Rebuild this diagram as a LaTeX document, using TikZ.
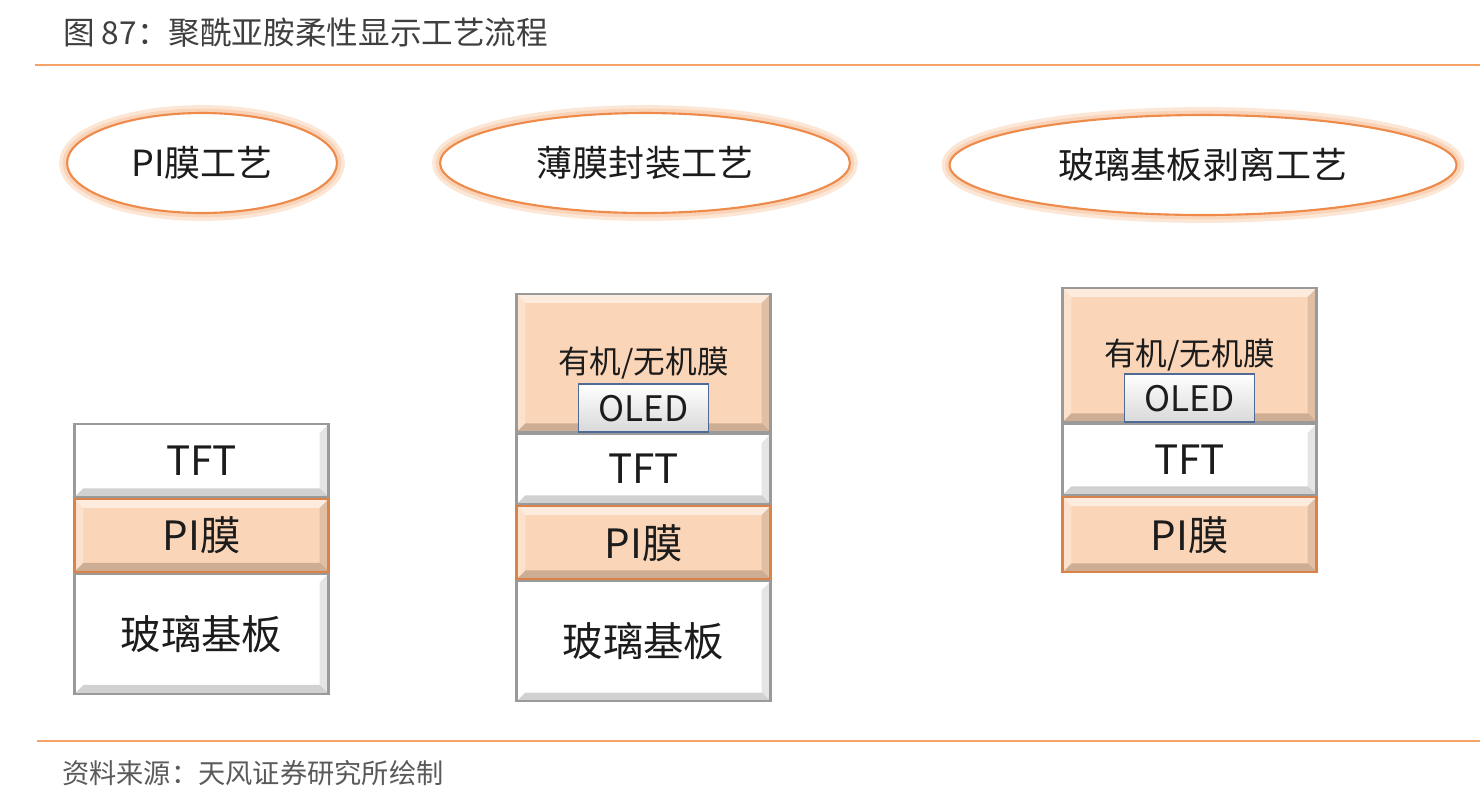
\documentclass[tikz,border=0pt]{standalone}
\usepackage{fontspec}
\newfontfamily\cjk{Noto Sans CJK SC}
\usepackage{tikz}
\usetikzlibrary{positioning}
\usetikzlibrary{shapes.geometric}
\usepackage{xcolor}
\definecolor{ruleorange}{HTML}{F5A266}
\definecolor{ovalline}{HTML}{EE8A4A}
\definecolor{ovalglow}{HTML}{F9C9A6}
\definecolor{peach}{HTML}{FBD5B7}
\definecolor{peachedge}{HTML}{D9824A}
\definecolor{edgegray}{HTML}{9A9A9A}
\definecolor{oledblue}{HTML}{4F6A96}
\definecolor{inkblack}{HTML}{1C1C1C}
\definecolor{titlegray}{HTML}{3F3F3F}
\definecolor{sourcegray}{HTML}{5A5A5A}

\tikzset{
  bevel/.style={path picture={
    \fill[white, opacity=.55] (path picture bounding box.north west) -- (path picture bounding box.north east)
      -- ([shift={(-5pt,-5pt)}]path picture bounding box.north east) -- ([shift={(5pt,-5pt)}]path picture bounding box.north west) -- cycle;
    \fill[black, opacity=.18] (path picture bounding box.south west) -- (path picture bounding box.south east)
      -- ([shift={(-5pt,5pt)}]path picture bounding box.south east) -- ([shift={(5pt,5pt)}]path picture bounding box.south west) -- cycle;
    \fill[black, opacity=.10] (path picture bounding box.north east) -- (path picture bounding box.south east)
      -- ([shift={(-5pt,5pt)}]path picture bounding box.south east) -- ([shift={(-5pt,-5pt)}]path picture bounding box.north east) -- cycle;
    \fill[white, opacity=.30] (path picture bounding box.north west) -- (path picture bounding box.south west)
      -- ([shift={(5pt,5pt)}]path picture bounding box.south west) -- ([shift={(5pt,-5pt)}]path picture bounding box.north west) -- cycle;
  }}
}

\begin{document}
\begin{tikzpicture}[x=0.02cm, y=-0.02cm,
  oval/.style={ellipse, draw=ovalline, line width=1.2pt, fill=white, inner sep=0pt, minimum height=2cm,
    font=\cjk\fontsize{20.5}{24}\selectfont, text=inkblack,
    preaction={draw=ovalglow!45, line width=9pt}, preaction={draw=ovalglow!80, line width=5pt}},
  layer/.style={draw=edgegray, line width=1.2pt, minimum width=5.08cm, inner sep=0pt,
    font=\cjk\fontsize{23}{27}\selectfont, text=inkblack, bevel},
  whitelayer/.style={layer, fill=white},
  peachlayer/.style={layer, fill=peach, draw=peachedge},
  filmlayer/.style={layer, fill=peach, font=\cjk\fontsize{18}{22}\selectfont},
  oledbox/.style={draw=oledblue, line width=1pt, top color=white, bottom color=gray!30, minimum width=2.6cm,
    minimum height=0.96cm, inner sep=0pt, font=\cjk\fontsize{20}{22}\selectfont, text=inkblack},
  ruleline/.style={draw=ruleorange, line width=1.2pt}
]
\useasboundingbox (0,0) rectangle (1480,806);

% Header and footer
\node[anchor=west, font=\cjk\fontsize{18}{22}\selectfont, text=titlegray] (title) at (57,33) {图 87：聚酰亚胺柔性显示工艺流程};
\draw[ruleline] (35,65) -- (1480,65);
\draw[ruleline] (37,741) -- (1480,741);
\node[anchor=west, font=\cjk\fontsize{15.5}{18}\selectfont, text=sourcegray] (source) at (56,773) {资料来源：天风证券研究所绘制};

% Process titles
\node[oval, minimum width=5.4cm] (ovalpi) at (202,163) {PI膜工艺};
\node[oval, minimum width=8.2cm] (ovalfilm) at (645,163) {薄膜封装工艺};
\node[oval, minimum width=10.14cm] (ovalglass) at (1203,165) {玻璃基板剥离工艺};

% Stack 1
\node[whitelayer, minimum height=1.46cm, anchor=north] (tft1) at (201.5,423) {TFT};
\node[peachlayer, minimum height=1.45cm, below=0pt of tft1] (pi1) {PI膜};
\node[whitelayer, minimum height=2.4cm, below=0pt of pi1] (glass1) {玻璃基板};

% Stack 2
\node[filmlayer, minimum height=2.76cm, anchor=north] (film2) at (643.5,293) {有机/无机膜};
\node[oledbox, anchor=south] (oled2) at (film2.south) {OLED};
\node[whitelayer, minimum height=1.4cm, below=0pt of film2] (tft2) {TFT};
\node[peachlayer, minimum height=1.46cm, below=0pt of tft2] (pi2) {PI膜};
\node[whitelayer, minimum height=2.4cm, below=0pt of pi2] (glass2) {玻璃基板};

% Stack 3
\node[filmlayer, minimum height=2.68cm, anchor=north] (film3) at (1189.5,287) {有机/无机膜};
\node[oledbox, anchor=south] (oled3) at (film3.south) {OLED};
\node[whitelayer, minimum height=1.42cm, below=0pt of film3] (tft3) {TFT};
\node[peachlayer, minimum height=1.5cm, below=0pt of tft3] (pi3) {PI膜};

\end{tikzpicture}
\end{document}
